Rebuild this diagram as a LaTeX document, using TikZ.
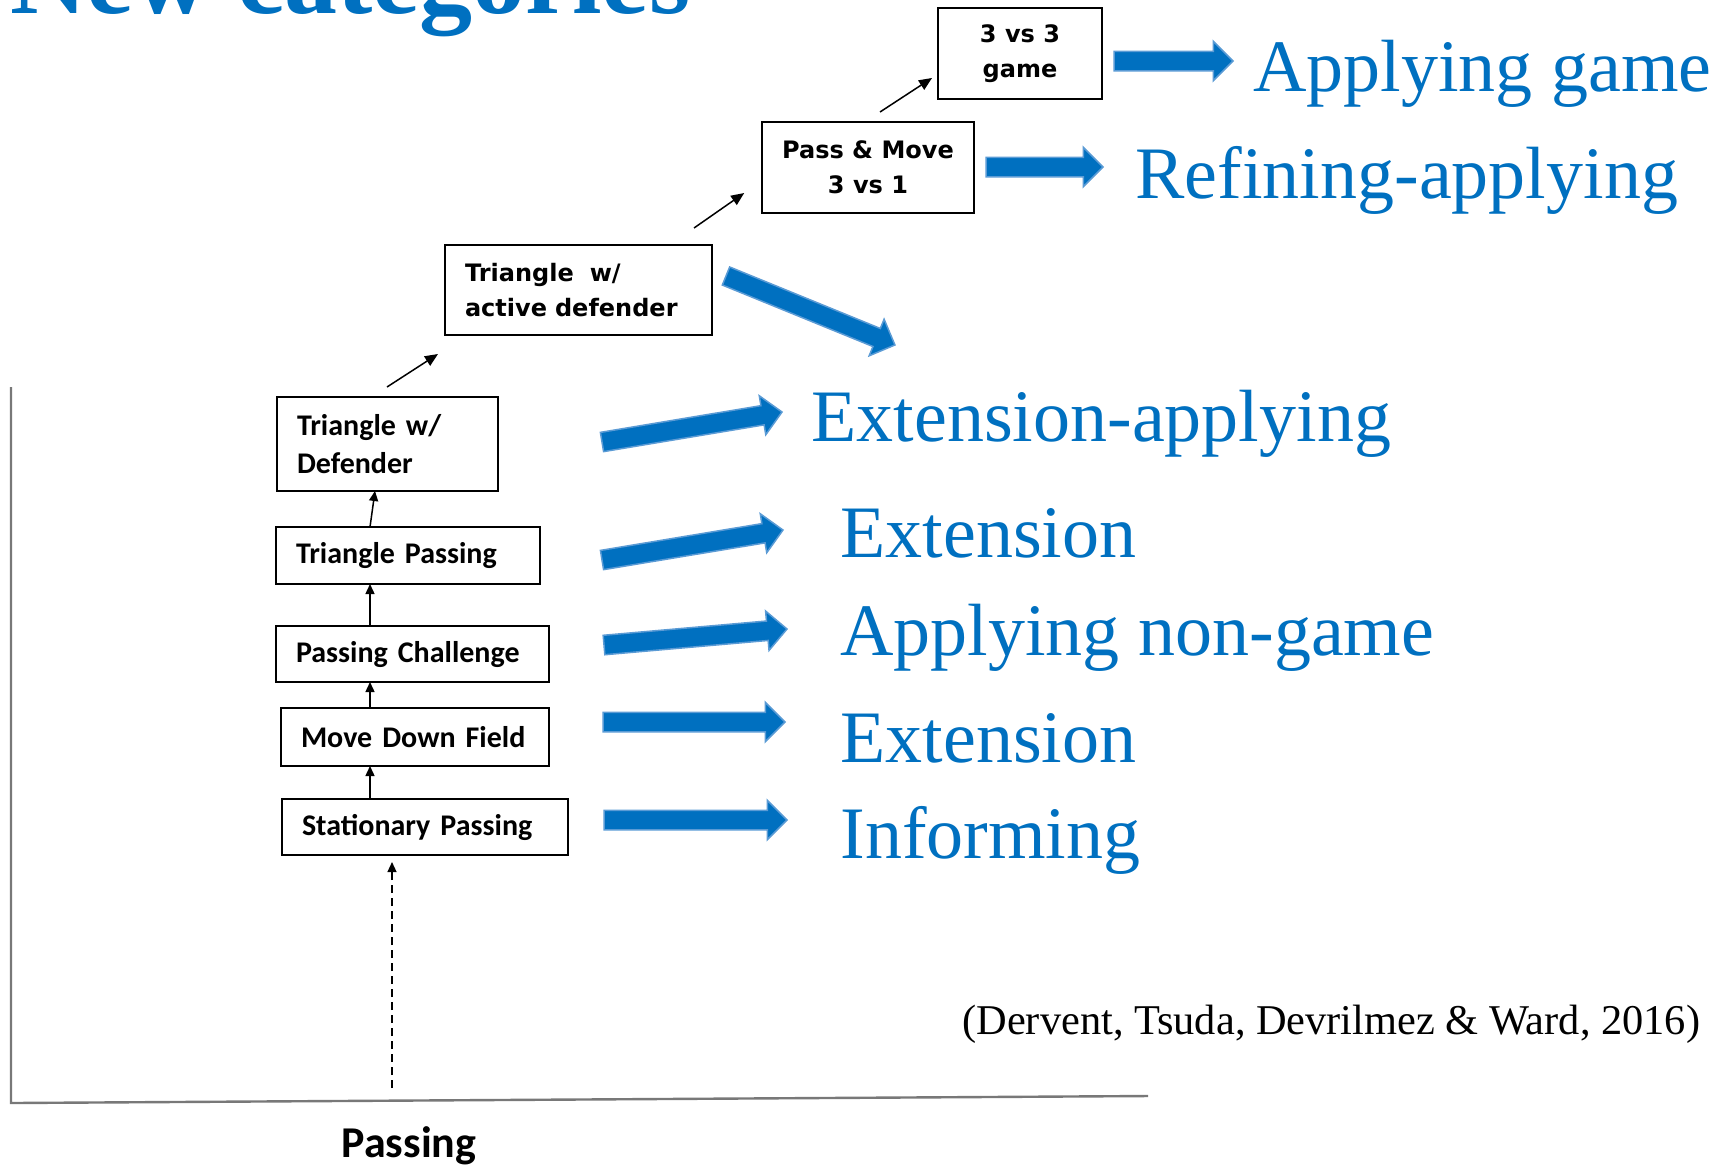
\documentclass[tikz,border=0pt]{standalone}
\usepackage{fontspec}
\setmainfont{Liberation Serif}
\newfontfamily\calfont{Carlito}
\newfontfamily\boxfont{DejaVu Sans}
\usetikzlibrary{arrows.meta,shapes.arrows,calc,positioning}

\definecolor{catblue}{RGB}{0,112,192}
\definecolor{catedge}{RGB}{91,155,213}
\definecolor{axisgray}{RGB}{120,120,120}

\tikzset{
stepbox/.style={draw, line width=0.75pt, inner xsep=10pt, inner ysep=0pt, outer sep=0pt, align=left,
  font={\calfont\bfseries\fontsize{15pt}{19pt}\selectfont}},
topbox/.style={draw, line width=1pt, inner xsep=10pt, inner ysep=0pt, outer sep=0pt,
  font={\boxfont\bfseries\fontsize{12pt}{17.5pt}\selectfont}},
steparrow/.style={line width=0.75pt, -{Triangle[length=5pt,width=4.5pt]}},
toparrow/.style={line width=0.75pt, -{Triangle[length=6.5pt,width=5.5pt]}},
bluearrow/.style={single arrow, draw=catedge, fill=catblue, line width=0.75pt,
  inner xsep=0pt, inner ysep=4.5pt, outer sep=0pt, minimum width=0pt,
  single arrow head extend=5pt, anchor=tail},
catlabel/.style={anchor=base west, inner sep=0pt, text=catblue,
  font={\fontsize{37pt}{44pt}\selectfont}}
}

\begin{document}
\begin{tikzpicture}[x=0.5pt,y=-0.5pt]
\useasboundingbox (0,0) rectangle (1733,1164);
\clip (0,0) rectangle (1733,1164);

% heading, only its lower part shows
\node[anchor=base west, inner sep=0pt, text=catblue, font={\bfseries\fontsize{53pt}{60pt}\selectfont}] (title) at (10,13) {New categories};

% axes
\coordinate (origin) at (11,1103);
\draw[axisgray, line width=1.2pt] (11,387) -- (origin) -- (1148,1096);
\node[anchor=base, inner sep=0pt, font={\calfont\bfseries\fontsize{22pt}{26pt}\selectfont}] (axislabel) at (409,1157) {Passing};

% lower stack
\node[stepbox, text width=90.5pt, minimum height=47pt] (defender) at (387.5,444) {Triangle w/\\Defender};
\node[stepbox, text width=112pt, minimum height=28.5pt] (tripass) at (408,555.5) {Triangle Passing};
\node[stepbox, text width=116.5pt, minimum height=28pt] (chall) at (412.5,654) {Passing Challenge};
\node[stepbox, text width=114pt, minimum height=29pt] (move) at (415,737) {Move Down Field};
\node[stepbox, text width=123pt, minimum height=28pt] (stat) at (425,827) {Stationary Passing};

% upper boxes
\node[topbox, align=left, text width=113.5pt, minimum height=45pt] (actdef) at (578.5,290) {Triangle\ \ w/\\active defender};
\node[topbox, align=center, minimum width=105pt, minimum height=45.5pt] (pass) at (868,167.5) {Pass \& Move\\3 vs 1};
\node[topbox, align=center, minimum width=82pt, minimum height=45.5pt] (game) at (1020,53.5) {3 vs 3\\game};

% step connectors
\coordinate (stem) at (370,0);
\coordinate (stemtop) at (375,0);
\foreach \a/\b in {stat/move, move/chall, chall/tripass}
  \draw[steparrow] (\a.north -| stem) -- (\b.south -| stem);
\draw[steparrow] (tripass.north -| stem) -- (defender.south -| stemtop);

\coordinate (dashfoot) at (392,1088);
\coordinate (dashtip) at ($(stat.south -| dashfoot)+(0,7)$);
\draw[steparrow, dash pattern={on 4pt off 2.5pt}, line width=0.6pt] (dashfoot) -- (dashtip);

\draw[toparrow] ([shift={(55pt,5pt)}]defender.north west) -- ([shift={(-3.5pt,-9.5pt)}]actdef.south west);
\draw[toparrow] ([shift={(-9pt,8.5pt)}]actdef.north east) -- ([shift={(-9pt,10pt)}]pass.south west);
\draw[toparrow] ([shift={(6pt,5pt)}]pass.north) -- ([shift={(-3pt,10.5pt)}]game.south west);

% block arrows to the categories
\coordinate (game-tail) at (1114,61);    \coordinate (game-head) at (1233,61);
\coordinate (refine-tail) at (986,167);  \coordinate (refine-head) at (1103,167);
\coordinate (diag-tail) at (726,276);    \coordinate (diag-head) at (895,345);
\coordinate (extapp-tail) at (602,442);  \coordinate (extapp-head) at (782,412);
\coordinate (extone-tail) at (602,560);  \coordinate (extone-head) at (783,530);
\coordinate (nongame-tail) at (604,645); \coordinate (nongame-head) at (787,629);
\coordinate (exttwo-tail) at (603,722);  \coordinate (exttwo-head) at (785,722);
\coordinate (inform-tail) at (604,820);  \coordinate (inform-head) at (787,820);
\foreach \arr in {game,refine,diag,extapp,extone,nongame,exttwo,inform}
  \path let \p1=($(\arr-head)-(\arr-tail)$) in
    (\arr-tail) node[bluearrow, rotate={atan2(\y1,\x1)}, minimum height={veclen(\x1,\y1)}] (\arr-arrow) {};

% category labels
\node[catlabel] (lab-game) at (1253,91) {Applying game};
\node[catlabel] (lab-refine) at (1135,198) {Refining-applying};
\node[catlabel] (lab-extapp) at (811,441) {Extension-applying};
\node[catlabel] (lab-extone) at (840,557) {Extension};
\node[catlabel] (lab-nongame) at (840,655) {Applying non-game};
\node[catlabel] (lab-exttwo) at (840,762) {Extension};
\node[catlabel] (lab-inform) at (840,858) {Informing};

\node[anchor=base west, inner sep=0pt, font={\fontsize{21.2pt}{26pt}\selectfont}] (cite) at (962,1034) {(Dervent, Tsuda, Devrilmez \& Ward, 2016)};
\end{tikzpicture}
\end{document}
